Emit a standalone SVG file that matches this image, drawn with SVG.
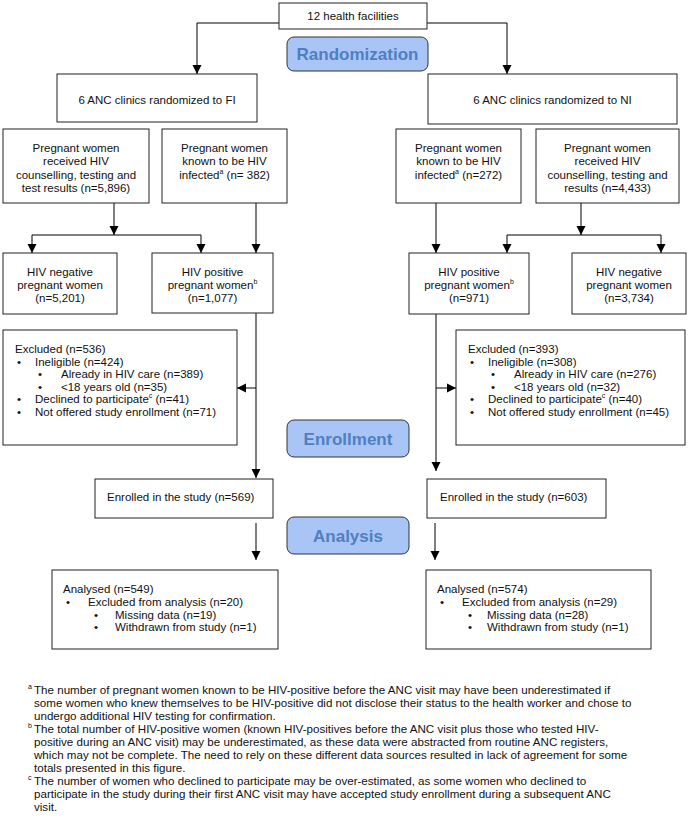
<svg xmlns="http://www.w3.org/2000/svg" width="689" height="819" viewBox="0 0 689 819">
<style>
text{font-family:"Liberation Sans",Arial,Helvetica,sans-serif;font-size:11.5px;fill:#111}
.c{text-anchor:middle}
.box{fill:#fff;stroke:#222;stroke-width:1}
.lab{fill:#a8c5f5;stroke:#333;stroke-width:1}
.labt{font-size:17px;font-weight:bold;fill:#4f7fc2;text-anchor:middle}
.ln{fill:none;stroke:#000;stroke-width:1}
.arr{fill:none;stroke:#000;stroke-width:1;marker-end:url(#ah)}
.sup{font-size:7px}
.fn{font-size:11.6px}
</style>
<defs>
<marker id="ah" markerUnits="userSpaceOnUse" markerWidth="9" markerHeight="10" refX="9" refY="4.5" orient="auto" viewBox="0 0 9 9">
<path d="M0,0 L9,4.5 L0,9 z" fill="#000"/>
</marker>
</defs>
<rect width="689" height="819" fill="#fff"/>

<g id="connectors">
<polyline class="arr" points="279,23 197,23 197,74"/>
<polyline class="arr" points="427,23 507,23 507,74"/>
<line class="arr" x1="114" y1="203" x2="114" y2="235"/>
<line class="ln" x1="32" y1="235" x2="201" y2="235"/>
<line class="arr" x1="32" y1="235" x2="32" y2="253"/>
<line class="arr" x1="201" y1="235" x2="201" y2="253"/>
<line class="arr" x1="256" y1="203" x2="256" y2="253"/>
<line class="arr" x1="256" y1="313" x2="256" y2="478"/>
<line class="arr" x1="256" y1="388" x2="237" y2="388"/>
<line class="arr" x1="256" y1="523" x2="256" y2="560"/>
<line class="arr" x1="436" y1="203" x2="436" y2="253"/>
<line class="arr" x1="581" y1="203" x2="581" y2="235"/>
<line class="ln" x1="507" y1="235" x2="661" y2="235"/>
<line class="arr" x1="507" y1="235" x2="507" y2="253"/>
<line class="arr" x1="661" y1="235" x2="661" y2="253"/>
<line class="arr" x1="436" y1="314" x2="436" y2="471"/>
<line class="arr" x1="436" y1="388" x2="456" y2="388"/>
<line class="arr" x1="435" y1="523" x2="435" y2="560"/>
</g>

<g id="facilities">
<rect class="box" x="279" y="3" width="148" height="26"/>
<text class="c" x="353" y="20">12 health facilities</text>
</g>

<g id="randomization">
<rect class="lab" x="287" y="37" width="141" height="34" rx="7"/>
<text class="labt" x="357.5" y="60">Randomization</text>
</g>

<g id="fi">
<rect class="box" x="57" y="74" width="200" height="48"/>
<text class="c" x="157" y="104">6 ANC clinics randomized to FI</text>
</g>

<g id="ni">
<rect class="box" x="428" y="74" width="249" height="50"/>
<text class="c" x="552.5" y="104">6 ANC clinics randomized to NI</text>
</g>

<g id="fi-tested">
<rect class="box" x="3" y="129" width="146" height="74"/>
<text class="c" x="76" y="152">Pregnant women</text>
<text class="c" x="76" y="165.3">received HIV</text>
<text class="c" x="76" y="178.6">counselling, testing and</text>
<text class="c" x="76" y="191.9">test results (n=5,896)</text>
</g>

<g id="fi-known">
<rect class="box" x="162" y="129" width="125" height="74"/>
<text class="c" x="224.5" y="152">Pregnant women</text>
<text class="c" x="224.5" y="165.3">known to be HIV</text>
<text class="c" x="224.5" y="178.6">infected<tspan class="sup" dy="-5">a</tspan><tspan dy="5"> (n= 382)</tspan></text>
</g>

<g id="fi-neg">
<rect class="box" x="3" y="253" width="114" height="61"/>
<text class="c" x="60" y="275.7">HIV negative</text>
<text class="c" x="60" y="289">pregnant women</text>
<text class="c" x="60" y="302.3">(n=5,201)</text>
</g>

<g id="fi-pos">
<rect class="box" x="152" y="253" width="121" height="60"/>
<text class="c" x="212.5" y="275.7">HIV positive</text>
<text class="c" x="212.5" y="289">pregnant women<tspan class="sup" dy="-5">b</tspan></text>
<text class="c" x="212.5" y="302.3">(n=1,077)</text>
</g>

<g id="ni-known">
<rect class="box" x="396" y="129" width="125" height="74"/>
<text class="c" x="458.5" y="152">Pregnant women</text>
<text class="c" x="458.5" y="165.3">known to be HIV</text>
<text class="c" x="458.5" y="178.6">infected<tspan class="sup" dy="-5">a</tspan><tspan dy="5"> (n=272)</tspan></text>
</g>

<g id="ni-tested">
<rect class="box" x="536" y="129" width="143" height="74"/>
<text class="c" x="607.5" y="152">Pregnant women</text>
<text class="c" x="607.5" y="165.3">received HIV</text>
<text class="c" x="607.5" y="178.6">counselling, testing and</text>
<text class="c" x="607.5" y="191.9">results (n=4,433)</text>
</g>

<g id="ni-pos">
<rect class="box" x="409" y="253" width="120" height="61"/>
<text class="c" x="469" y="275.7">HIV positive</text>
<text class="c" x="469" y="289">pregnant women<tspan class="sup" dy="-5">b</tspan></text>
<text class="c" x="469" y="302.3">(n=971)</text>
</g>

<g id="ni-neg">
<rect class="box" x="572" y="253" width="114" height="61"/>
<text class="c" x="629" y="275.7">HIV negative</text>
<text class="c" x="629" y="289">pregnant women</text>
<text class="c" x="629" y="302.3">(n=3,734)</text>
</g>

<g id="fi-excluded">
<rect class="box" x="3" y="330" width="234" height="115"/>
<text x="15" y="353">Excluded (n=536)</text>
<text x="17" y="365.5">•</text><text x="35" y="365.5">Ineligible  (n=424)</text>
<text x="38" y="378">•</text><text x="61" y="378">Already in HIV care (n=389)</text>
<text x="38" y="390.5">•</text><text x="61" y="390.5">&lt;18 years old (n=35)</text>
<text x="17" y="403">•</text><text x="35" y="403">Declined to participate<tspan class="sup" dy="-5">c</tspan><tspan dy="5"> (n=41)</tspan></text>
<text x="17" y="415.5">•</text><text x="35" y="415.5">Not offered study enrollment (n=71)</text>
</g>

<g id="ni-excluded">
<rect class="box" x="456" y="330" width="229" height="115"/>
<text x="468" y="353">Excluded (n=393)</text>
<text x="470" y="365.5">•</text><text x="488" y="365.5">Ineligible  (n=308)</text>
<text x="491" y="378">•</text><text x="514" y="378">Already in HIV care (n=276)</text>
<text x="491" y="390.5">•</text><text x="514" y="390.5">&lt;18 years old (n=32)</text>
<text x="470" y="403">•</text><text x="488" y="403">Declined to participate<tspan class="sup" dy="-5">c</tspan><tspan dy="5"> (n=40)</tspan></text>
<text x="470" y="415.5">•</text><text x="488" y="415.5">Not offered study enrollment (n=45)</text>
</g>

<g id="enrollment">
<rect class="lab" x="287" y="420" width="122" height="37" rx="7"/>
<text class="labt" x="348" y="444.5">Enrollment</text>
</g>

<g id="fi-enrolled">
<rect class="box" x="95" y="479" width="178" height="39"/>
<text x="107" y="501">Enrolled in the study (n=569)</text>
</g>

<g id="ni-enrolled">
<rect class="box" x="427" y="479" width="179" height="39"/>
<text x="440" y="501">Enrolled in the study (n=603)</text>
</g>

<g id="analysis">
<rect class="lab" x="287" y="517" width="122" height="37" rx="7"/>
<text class="labt" x="348" y="541.5">Analysis</text>
</g>

<g id="fi-analysed">
<rect class="box" x="52" y="570" width="226" height="79"/>
<text x="63" y="593">Analysed (n=549)</text>
<text x="66" y="606">•</text><text x="88" y="606">Excluded from analysis (n=20)</text>
<text x="94" y="618.5">•</text><text x="115" y="618.5">Missing data (n=19)</text>
<text x="94" y="631">•</text><text x="115" y="631">Withdrawn from study (n=1)</text>
</g>

<g id="ni-analysed">
<rect class="box" x="426" y="570" width="225" height="79"/>
<text x="437" y="593">Analysed (n=574)</text>
<text x="440" y="606">•</text><text x="462" y="606">Excluded from analysis (n=29)</text>
<text x="468" y="618.5">•</text><text x="487" y="618.5">Missing data (n=28)</text>
<text x="468" y="631">•</text><text x="487" y="631">Withdrawn from study (n=1)</text>
</g>

<g id="footnotes">
<text class="sup" x="28" y="689">a</text>
<text class="fn" x="34" y="694">The number of pregnant women known to be HIV-positive before the ANC visit may have been underestimated if</text>
<text class="fn" x="34" y="707">some women who knew themselves to be HIV-positive did not disclose their status to the health worker and chose to</text>
<text class="fn" x="34" y="720">undergo additional HIV testing for confirmation.</text>
<text class="sup" x="28" y="728">b</text>
<text class="fn" x="34" y="733">The total number of HIV-positive women (known HIV-positives before the ANC visit plus those who tested HIV-</text>
<text class="fn" x="34" y="746">positive during an ANC visit) may be underestimated, as these data were abstracted from routine ANC registers,</text>
<text class="fn" x="34" y="759">which may not be complete.  The need to rely on these different data sources resulted in lack of agreement for some</text>
<text class="fn" x="34" y="772">totals presented in this figure.</text>
<text class="sup" x="28" y="780">c</text>
<text class="fn" x="34" y="785">The number of women who declined to participate may be over-estimated, as some women who declined to</text>
<text class="fn" x="34" y="798">participate in the study during their first ANC visit may have accepted study enrollment during a subsequent ANC</text>
<text class="fn" x="34" y="811">visit.</text>
</g>
</svg>
